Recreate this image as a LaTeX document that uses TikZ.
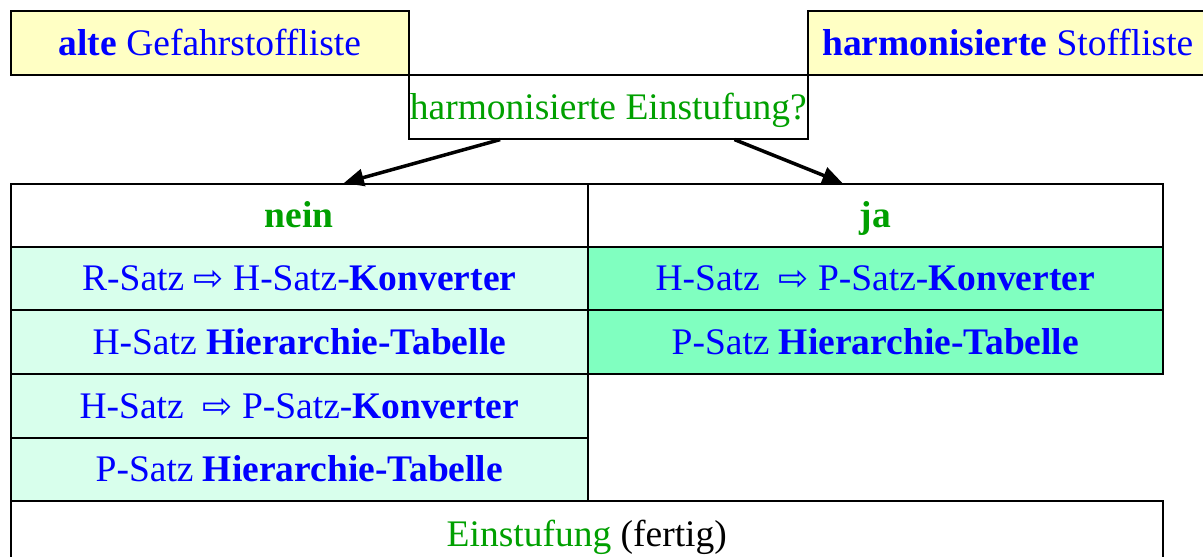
\documentclass[tikz,border=0pt]{standalone}
\usepackage{fontspec}
\setmainfont{Liberation Serif}
\newfontfamily\symfont{DejaVu Sans}
\usetikzlibrary{arrows.meta,calc}
\definecolor{tblue}{RGB}{0,0,255}
\definecolor{tgreen}{RGB}{0,160,0}
\definecolor{pyellow}{RGB}{255,255,196}
\definecolor{pmint}{RGB}{216,255,236}
\definecolor{pgreen}{RGB}{128,255,192}
\newcommand{\harr}{{\symfont\fontsize{36}{36}\selectfont ⇨}}
\begin{document}
\begin{tikzpicture}[x=1pt,y=-1pt,font=\fontsize{37.5}{42}\selectfont,
  cell/.style={draw, line width=1.6pt, inner sep=0pt, anchor=north west, text=tblue, align=center,
    text height=29pt, text depth=4pt},
  conn/.style={line width=3.5pt, -{Triangle[length=20pt,width=17pt]}}]
\useasboundingbox (0,0) rectangle (1203,557);
\clip (0,0) rectangle (1203,557);
% top boxes
\node[cell, fill=pyellow, minimum width=398pt, minimum height=64pt] (alt) at (10,10) {\textbf{alte} Gefahrstoffliste};
\node[cell, fill=pyellow, minimum width=400pt, minimum height=64pt] (harm) at (807,10) {\textbf{harmonisierte} Stoffliste};
\node[cell, fill=white, text=tgreen, minimum width=399pt, minimum height=64pt] (frage) at (408,74) {harmonisierte Einstufung?};
% table header
\node[cell, fill=white, text=tgreen, font=\fontsize{37.5}{42}\selectfont\bfseries, minimum width=577pt, minimum height=63pt] (nein) at (10,183) {nein};
\node[cell, fill=white, text=tgreen, font=\fontsize{37.5}{42}\selectfont\bfseries, minimum width=575pt, minimum height=63pt] (ja) at (587,183) {ja};
% left column
\node[cell, fill=pmint, minimum width=577pt, minimum height=63pt] (l1) at (10,246) {R-Satz \harr\ H-Satz-\textbf{Konverter}};
\node[cell, fill=pmint, minimum width=577pt, minimum height=64pt] (l2) at (10,309) {H-Satz \textbf{Hierarchie-Tabelle}};
\node[cell, fill=pmint, minimum width=577pt, minimum height=64pt] (l3) at (10,373) {H-Satz\ \ \harr\ P-Satz-\textbf{Konverter}};
\node[cell, fill=pmint, minimum width=577pt, minimum height=63pt] (l4) at (10,437) {P-Satz \textbf{Hierarchie-Tabelle}};
% right column
\node[cell, fill=pgreen, minimum width=575pt, minimum height=63pt] (r1) at (587,246) {H-Satz\ \ \harr\ P-Satz-\textbf{Konverter}};
\node[cell, fill=pgreen, minimum width=575pt, minimum height=64pt] (r2) at (587,309) {P-Satz \textbf{Hierarchie-Tabelle}};
% final row
\node[cell, fill=white, text=black, minimum width=1152pt, minimum height=66pt] (end) at (10,500) {\textcolor{tgreen}{Einstufung} (fertig)};
% connectors
\draw[conn] ($(frage.south west)!0.23!(frage.south east)$) -- ($(nein.north west)!0.577!(nein.north east)$);
\draw[conn] ($(frage.south west)!0.815!(frage.south east)$) -- ($(ja.north west)!0.443!(ja.north east)$);
\end{tikzpicture}
\end{document}
